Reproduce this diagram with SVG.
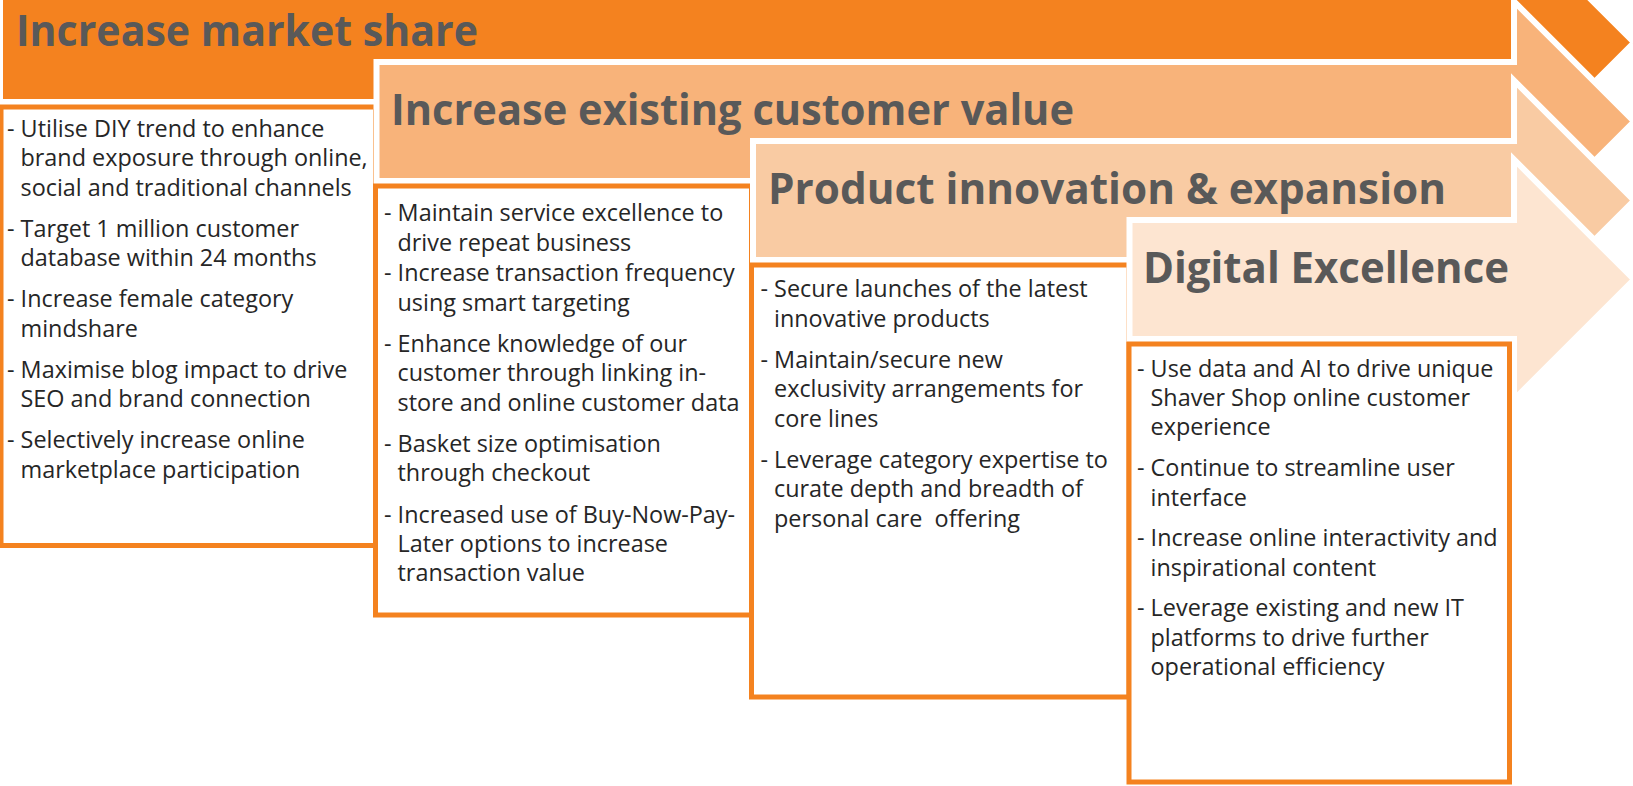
<svg xmlns="http://www.w3.org/2000/svg" width="1633" height="786" viewBox="0 0 1633 786">
  <style>
    .arrow { stroke: #FFFFFF; stroke-width: 6; stroke-linejoin: miter; }
    .a1 { fill: #F4821F; }
    .a2 { fill: #F8B37A; }
    .a3 { fill: #F9CBA3; }
    .a4 { fill: #FDE5D1; }
    .box { fill: #FFFFFF; stroke: #F4821F; stroke-width: 5; }
    .head { font-family: "Open Sans", "Liberation Sans", sans-serif; font-weight: 700; font-size: 43px; fill: #595959; }
    .body { font-family: "Open Sans", "Liberation Sans", sans-serif; font-size: 23.4px; fill: #262626; }
  </style>
  <rect width="1633" height="786" fill="#FFFFFF"/>

  <!-- Stage 1: market share -->
  <g id="arrow-market-share">
    <path class="arrow a1" d="M0,-17 H1514 V-77.5 L1634,42.5 L1514,162.5 V102 H0 Z"/>
    <text class="head" x="16" y="46" textLength="462" lengthAdjust="spacingAndGlyphs">Increase market share</text>
  </g>
  <g id="box-market-share">
    <rect class="box" x="1" y="107" width="374.5" height="438.5"/>
    <text class="body">
      <tspan x="7" y="136.5">- Utilise DIY trend to enhance</tspan>
      <tspan x="20.5" y="166">brand exposure through online,</tspan>
      <tspan x="20.5" y="195.5">social and traditional channels</tspan>
    </text>
    <text class="body">
      <tspan x="7" y="236.5">- Target 1 million customer</tspan>
      <tspan x="20.5" y="266">database within 24 months</tspan>
    </text>
    <text class="body">
      <tspan x="7" y="307">- Increase female category</tspan>
      <tspan x="20.5" y="336.5">mindshare</tspan>
    </text>
    <text class="body">
      <tspan x="7" y="377.5">- Maximise blog impact to drive</tspan>
      <tspan x="20.5" y="407">SEO and brand connection</tspan>
    </text>
    <text class="body">
      <tspan x="7" y="448">- Selectively increase online</tspan>
      <tspan x="20.5" y="477.5">marketplace participation</tspan>
    </text>
  </g>

  <!-- Stage 2: customer value -->
  <g id="arrow-customer-value">
    <path class="arrow a2" d="M376.5,62 H1514 V1.5 L1634,121.5 L1514,241.5 V181 H376.5 Z"/>
    <text class="head" x="391" y="125" textLength="683" lengthAdjust="spacingAndGlyphs">Increase existing customer value</text>
  </g>
  <g id="box-customer-value">
    <rect class="box" x="375.5" y="186" width="376" height="429"/>
    <text class="body">
      <tspan x="384" y="221">- Maintain service excellence to</tspan>
      <tspan x="397.5" y="250.5">drive repeat business</tspan>
    </text>
    <text class="body">
      <tspan x="384" y="281">- Increase transaction frequency</tspan>
      <tspan x="397.5" y="310.5">using smart targeting</tspan>
    </text>
    <text class="body">
      <tspan x="384" y="351.5">- Enhance knowledge of our</tspan>
      <tspan x="397.5" y="381">customer through linking in-</tspan>
      <tspan x="397.5" y="410.5">store and online customer data</tspan>
    </text>
    <text class="body">
      <tspan x="384" y="451.5">- Basket size optimisation</tspan>
      <tspan x="397.5" y="481">through checkout</tspan>
    </text>
    <text class="body">
      <tspan x="384" y="523">- Increased use of Buy-Now-Pay-</tspan>
      <tspan x="397.5" y="552">Later options to increase</tspan>
      <tspan x="397.5" y="581">transaction value</tspan>
    </text>
  </g>

  <!-- Stage 3: product innovation -->
  <g id="arrow-product-innovation">
    <path class="arrow a3" d="M753,141 H1514 V80.5 L1634,200.5 L1514,320.5 V260 H753 Z"/>
    <text class="head" x="768" y="204" textLength="678" lengthAdjust="spacingAndGlyphs">Product innovation &amp; expansion</text>
  </g>
  <g id="box-product-innovation">
    <rect class="box" x="751.5" y="265" width="377.5" height="432"/>
    <text class="body">
      <tspan x="760.5" y="297">- Secure launches of the latest</tspan>
      <tspan x="774" y="326.5">innovative products</tspan>
    </text>
    <text class="body">
      <tspan x="760.5" y="367.5">- Maintain/secure new</tspan>
      <tspan x="774" y="397">exclusivity arrangements for</tspan>
      <tspan x="774" y="426.5">core lines</tspan>
    </text>
    <text class="body" xml:space="preserve"><tspan x="760.5" y="467.5">- Leverage category expertise to</tspan><tspan x="774" y="497">curate depth and breadth of</tspan><tspan x="774" y="526.5">personal care  offering</tspan></text>
  </g>

  <!-- Stage 4: digital excellence -->
  <g id="arrow-digital-excellence">
    <path class="arrow a4" d="M1129.5,220 H1514 V159.5 L1634,279.5 L1514,399.5 V339 H1129.5 Z"/>
    <text class="head" x="1143" y="283" textLength="366" lengthAdjust="spacingAndGlyphs">Digital Excellence</text>
  </g>
  <g id="box-digital-excellence">
    <rect class="box" x="1129" y="344" width="380.5" height="438"/>
    <text class="body">
      <tspan x="1137" y="377">- Use data and AI to drive unique</tspan>
      <tspan x="1150.5" y="406">Shaver Shop online customer</tspan>
      <tspan x="1150.5" y="435">experience</tspan>
    </text>
    <text class="body">
      <tspan x="1137" y="476">- Continue to streamline user</tspan>
      <tspan x="1150.5" y="505.5">interface</tspan>
    </text>
    <text class="body">
      <tspan x="1137" y="546">- Increase online interactivity and</tspan>
      <tspan x="1150.5" y="575.5">inspirational content</tspan>
    </text>
    <text class="body">
      <tspan x="1137" y="616">- Leverage existing and new IT</tspan>
      <tspan x="1150.5" y="645.5">platforms to drive further</tspan>
      <tspan x="1150.5" y="675">operational efficiency</tspan>
    </text>
  </g>

  <!-- no connectors in this chart -->
  <g id="connectors"/>
</svg>
